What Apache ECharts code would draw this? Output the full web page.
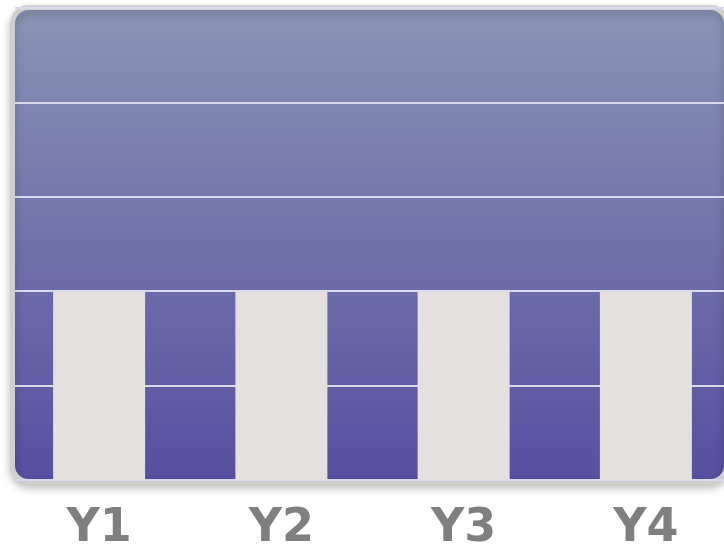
<!DOCTYPE html>
<html>
<head>
<meta charset="utf-8">
<script src="https://cdn.jsdelivr.net/npm/echarts@6/dist/echarts.min.js"></script>
<style>
  html, body { margin: 0; padding: 0; background: #fff; }
  #main { width: 724px; height: 545px; }
</style>
</head>
<body>
<div id="main"></div>
<script>
var categories = ['Y1', 'Y2', 'Y3', 'Y4'];
var values = [2, 2, 2, 2];
var yMin = 0;
var yMax = 5;
var yStep = 1;

var chart = echarts.init(document.getElementById('main'), null, { renderer: 'canvas' });

var options = {
  animation: false,
  backgroundColor: '#ffffff',
  graphic: [{
    // panel background
    type: 'rect',
    z: -10,
    silent: true,
    shape: { x: 12.5, y: 7.5, width: 714, height: 474, r: 16 },
    style: {
      fill: new echarts.graphic.LinearGradient(0, 0, 0, 1, [
        { offset: 0, color: '#8a95b5' },
        { offset: 1, color: '#574ea0' }
      ]),
      stroke: '#d1cfcd',
      lineWidth: 5,
      shadowBlur: 8,
      shadowOffsetY: 4,
      shadowColor: 'rgba(0,0,0,0.22)'
    }
  }],
  grid: [
    // bars
    { left: 8, top: 8, width: 729, bottom: 65, outerBoundsMode: 'none', containLabel: false },
    // grid lines inside the panel
    { left: 15, top: 8, right: 0, bottom: 65, outerBoundsMode: 'none' }
  ],
  xAxis: [{
    type: 'category',
    gridIndex: 0,
    data: categories,
    axisLine: { show: false },
    axisTick: { show: false },
    axisLabel: {
      color: '#7f7f7f',
      fontSize: 46,
      fontWeight: 'bold',
      fontFamily: 'DejaVu Sans',
      margin: 26
    }
  }, {
    type: 'value',
    gridIndex: 1,
    show: false
  }],
  yAxis: [{
    type: 'value',
    gridIndex: 0,
    min: yMin,
    max: yMax,
    interval: yStep,
    axisLabel: { show: false },
    axisLine: { show: false },
    axisTick: { show: false },
    splitLine: { show: false }
  }, {
    type: 'value',
    gridIndex: 1,
    min: yMin,
    max: yMax,
    interval: yStep,
    axisLabel: { show: false },
    axisLine: { show: false },
    axisTick: { show: false },
    splitLine: { show: true, lineStyle: { color: '#d9d9ee', width: 2 } }
  }],
  series: [{
    type: 'bar',
    xAxisIndex: 0,
    yAxisIndex: 0,
    data: values,
    barWidth: 92,
    itemStyle: { color: '#e4e0e0' },
    z: 5
  }]
};

chart.setOption(options);
</script>
</body>
</html>
